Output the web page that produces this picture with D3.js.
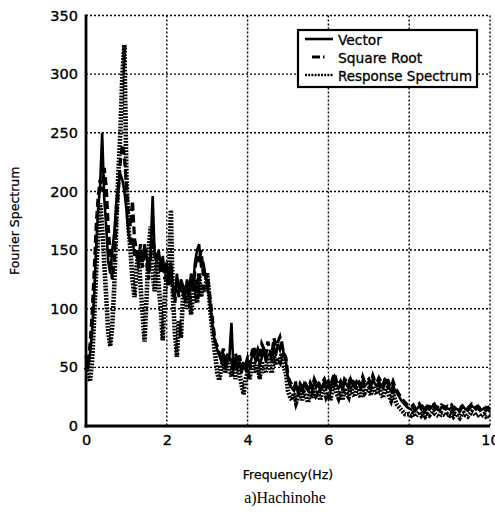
<!DOCTYPE html>
<html>
<head>
<meta charset="utf-8">
<script src="https://cdn.jsdelivr.net/npm/d3@7"></script>
<style>
  html, body { margin: 0; padding: 0; background: #fff; }
  svg { display: block; }
  text { fill: #000; }
</style>
</head>
<body>
<svg id="chart" width="495" height="512"></svg>
<script>
// Fourier spectra of the Hachinohe record, sampled every 0.05 Hz from 0 to 10 Hz
const freqStep = 0.05;

const vector = [
  55, 48, 62, 80, 110, 150, 185, 205, 250, 195, 170, 140, 130, 150, 165, 190, 205, 215, 210, 200,
  185, 165, 155, 160, 145, 150, 135, 150, 140, 155, 145, 130, 150, 196, 145, 140, 150, 135, 145, 130,
  140, 125, 135, 120, 110, 130, 115, 125, 120, 110, 125, 115, 130, 120, 140, 150, 155, 135, 140, 130,
  120, 110, 95, 80, 70, 65, 60, 55, 62, 50, 55, 60, 88, 48, 58, 50, 55, 45, 52, 48,
  55, 50, 58, 62, 55, 60, 52, 58, 65, 55, 60, 62, 55, 68, 60, 70, 65, 72, 60, 55,
  40, 35, 32, 30, 35, 28, 33, 30, 36, 32, 30, 35, 30, 38, 33, 36, 30, 34, 38, 32,
  35, 30, 38, 42, 35, 32, 36, 30, 38, 35, 32, 40, 35, 33, 38, 36, 32, 38, 34, 36,
  38, 33, 40, 36, 34, 38, 35, 32, 36, 38, 33, 30, 35, 30, 28, 25, 22, 20, 18, 16,
  15, 14, 16, 13, 15, 17, 14, 16, 13, 15, 14, 16, 18, 15, 14, 13, 16, 15, 14, 15,
  14, 16, 13, 15, 14, 12, 15, 16, 14, 13, 15, 17, 16, 14, 15, 13, 14, 15, 13, 14,
  12
];

const squareRoot = [
  60, 52, 70, 95, 130, 170, 195, 210, 200, 220, 205, 170, 145, 125, 140, 175, 200, 225, 240, 230,
  205, 180, 170, 192, 160, 150, 140, 155, 135, 150, 140, 125, 145, 160, 150, 140, 145, 130, 140, 125,
  130, 120, 140, 115, 105, 125, 110, 120, 115, 105, 120, 110, 125, 115, 135, 145, 140, 150, 130, 125,
  130, 115, 100, 85, 72, 68, 62, 58, 66, 55, 60, 58, 55, 52, 62, 55, 60, 50, 55, 52,
  58, 52, 62, 68, 60, 65, 58, 70, 66, 60, 72, 65, 60, 75, 68, 72, 76, 68, 62, 58,
  42, 38, 35, 32, 38, 30, 36, 33, 38, 35, 32, 37, 33, 40, 36, 38, 33, 37, 40, 35,
  38, 33, 40, 45, 38, 35, 38, 33, 40, 38, 35, 42, 38, 36, 40, 38, 35, 42, 37, 38,
  40, 36, 43, 38, 37, 41, 38, 35, 40, 42, 36, 33, 38, 33, 30, 27, 24, 22, 20, 18,
  17, 16, 18, 15, 17, 19, 16, 18, 15, 17, 16, 18, 20, 17, 16, 15, 18, 17, 16, 17,
  16, 18, 15, 17, 16, 14, 17, 18, 16, 15, 17, 19, 18, 16, 17, 15, 16, 17, 15, 16,
  14
];

const responseSpectrum = [
  50, 45, 38, 55, 90, 130, 165, 190, 170, 140, 110, 80, 68, 85, 120, 170, 215, 250, 300, 325,
  215, 170, 150, 125, 110, 135, 150, 120, 95, 72, 110, 150, 170, 130, 115, 140, 120, 100, 73, 110,
  130, 120, 184, 110, 80, 59, 90, 75, 110, 120, 100, 115, 95, 110, 125, 105, 130, 110, 120, 115,
  130, 110, 90, 75, 60, 45, 39, 50, 55, 45, 60, 50, 42, 55, 40, 50, 45, 35, 27, 40,
  45, 40, 50, 55, 45, 52, 40, 55, 48, 45, 58, 50, 45, 60, 52, 58, 55, 62, 50, 45,
  30, 25, 22, 28, 20, 25, 30, 22, 28, 25, 20, 30, 24, 32, 26, 28, 22, 30, 33, 25,
  28, 22, 32, 36, 28, 24, 30, 22, 32, 28, 25, 34, 28, 25, 32, 30, 24, 33, 28, 30,
  32, 26, 34, 30, 27, 33, 28, 24, 30, 32, 26, 22, 28, 22, 18, 16, 14, 12, 10, 10,
  10, 9, 11, 8, 10, 12, 9, 11, 8, 10, 9, 11, 13, 10, 9, 8, 11, 10, 9, 10,
  9, 11, 8, 10, 9, 7, 10, 11, 9, 8, 10, 12, 11, 9, 10, 8, 9, 10, 8, 9,
  8
];

const xTicks = [0, 2, 4, 6, 8, 10];
const yTicks = [0, 50, 100, 150, 200, 250, 300, 350];
const seriesNames = ["Vector", "Square Root", "Response Spectrum"];

const svg = d3.select("#chart");
const font = "'DejaVu Sans', Verdana, sans-serif";

const plotLeft = 86, plotRight = 490, plotTop = 15.5, plotBottom = 426;
const x = d3.scaleLinear().domain([0, 10]).range([plotLeft, plotRight]);
const y = d3.scaleLinear().domain([0, 350]).range([plotBottom, plotTop]);

// dotted grid, including the top and right borders
const grid = svg.append("g").attr("stroke", "#000").attr("stroke-width", 1.4)
  .attr("stroke-dasharray", "2,2").attr("fill", "none");
grid.selectAll("line.gx").data(xTicks.filter(d => d > 0)).join("line")
  .attr("x1", d => x(d)).attr("x2", d => x(d)).attr("y1", plotTop).attr("y2", plotBottom);
grid.selectAll("line.gy").data(yTicks.filter(d => d > 0)).join("line")
  .attr("x1", plotLeft).attr("x2", plotRight).attr("y1", d => y(d)).attr("y2", d => y(d));

// spectra
const styles = [
  { data: vector, width: 2.6, dash: null },
  { data: squareRoot, width: 3.2, dash: "8,4" },
  { data: responseSpectrum, width: 4.6, dash: "1.8,1.3" }
];
const line = d3.line().x((d, i) => x(i * freqStep)).y(d => y(d));
svg.append("g").selectAll("path").data(styles.slice().reverse()).join("path")
  .attr("d", s => line(s.data))
  .attr("fill", "none").attr("stroke", "#000")
  .attr("stroke-width", s => s.width)
  .attr("stroke-dasharray", s => s.dash)
  .attr("stroke-linejoin", "miter");

// axes
const xAxis = svg.append("g").attr("transform", `translate(0,${plotBottom})`)
  .call(d3.axisBottom(x).tickValues(xTicks).tickSize(0).tickPadding(9).tickFormat(d3.format("d")));
const yAxis = svg.append("g").attr("transform", `translate(${plotLeft},0)`)
  .call(d3.axisLeft(y).tickValues(yTicks).tickSize(0).tickPadding(8).tickFormat(d3.format("d")));
[xAxis, yAxis].forEach(a => {
  a.select(".domain").remove();
  a.selectAll("text").attr("font-family", font).attr("font-size", 14.5)
    .attr("stroke", "#000").attr("stroke-width", 0.35);
});
svg.append("line").attr("x1", plotLeft).attr("x2", plotLeft).attr("y1", plotTop - 1).attr("y2", plotBottom + 1.5)
  .attr("stroke", "#000").attr("stroke-width", 2.8);
svg.append("line").attr("x1", plotLeft - 1.4).attr("x2", plotRight).attr("y1", plotBottom).attr("y2", plotBottom)
  .attr("stroke", "#000").attr("stroke-width", 3);

// axis titles and caption
svg.append("text").attr("transform", `translate(19,${(plotTop + plotBottom) / 2}) rotate(-90)`)
  .attr("text-anchor", "middle").attr("font-family", font).attr("font-size", 12.5)
  .attr("stroke", "#000").attr("stroke-width", 0.25)
  .text("Fourier Spectrum");
svg.append("text").attr("x", 288).attr("y", 479).attr("text-anchor", "middle")
  .attr("font-family", font).attr("font-size", 12.5)
  .attr("stroke", "#000").attr("stroke-width", 0.25).text("Frequency(Hz)");
svg.append("text").attr("x", 285).attr("y", 503).attr("text-anchor", "middle")
  .attr("font-family", "'Liberation Serif', 'Times New Roman', serif").attr("font-size", 16)
  .text("a)Hachinohe");

// legend
const legend = svg.append("g");
legend.append("rect").attr("x", 298).attr("y", 30).attr("width", 179).attr("height", 57)
  .attr("fill", "#fff").attr("stroke", "#000").attr("stroke-width", 2.2);
const rows = legend.selectAll("g.row").data(seriesNames).join("g")
  .attr("transform", (d, i) => `translate(0,${39 + i * 18})`);
rows.append("line").attr("x1", 305).attr("x2", 333).attr("y1", 0).attr("y2", 0)
  .attr("stroke", "#000")
  .attr("stroke-width", (d, i) => [2.6, 3, 2.6][i])
  .attr("stroke-dasharray", (d, i) => [null, "0,7,8,3,1.5,20", "2,1.2"][i]);
rows.append("text").attr("x", 338).attr("y", 5.5).attr("font-family", font)
  .attr("font-size", 13.8).attr("textLength", (d, i) => [null, null, 134][i])
  .attr("lengthAdjust", "spacingAndGlyphs")
  .attr("stroke", "#000").attr("stroke-width", 0.3)
  .text(d => d);
</script>
</body>
</html>
